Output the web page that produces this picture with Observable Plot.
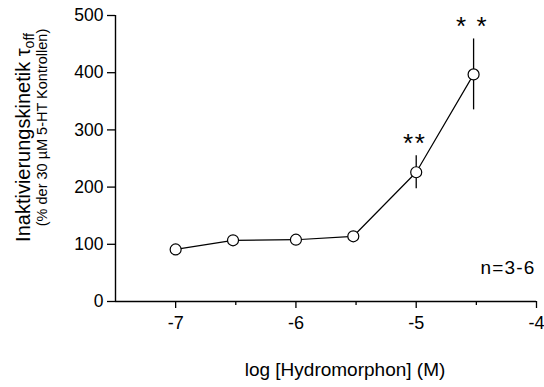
<!DOCTYPE html>
<html>
<head>
<meta charset="utf-8">
<script src="https://cdn.jsdelivr.net/npm/d3@7"></script>
<script src="https://cdn.jsdelivr.net/npm/@observablehq/plot@0.6"></script>
<style>
  html, body { margin: 0; padding: 0; background: #fff; }
  #chart { width: 544px; height: 387px; }
</style>
</head>
<body>
<div id="chart"></div>
<script>
// Data: log concentration of hydromorphone (M), mean tau_off (% of 30 µM 5-HT control), SEM
const logConc = [-7, -6.523, -6, -5.523, -5, -4.523];
const meanTau = [91, 107, 108, 114, 226, 397];
const semTau = [3, 4, 4, 3, 29, 62];
const sigLabels = ["", "", "", "", "**", "* *"];

const xTicksMajor = [-7, -6, -5, -4];
const xTicksMinor = [-6.5, -5.5, -4.5];
const yTicks = [0, 100, 200, 300, 400, 500];

const xTitle = "log [Hydromorphon] (M)";
const yTitleMain = "Inaktivierungskinetik τ";
const yTitleSub = "off";
const yTitle2 = "(% der 30 µM 5-HT Kontrollen)";
const noteText = "n=3-6";

const FONT = "'Liberation Sans', Arial, Helvetica, sans-serif";

const data = logConc.map((x, i) => ({
  x, y: meanTau[i], lo: meanTau[i] - semTau[i], hi: meanTau[i] + semTau[i], sig: sigLabels[i]
}));

const chart = Plot.plot({
  width: 544,
  height: 387,
  marginLeft: 115,
  marginRight: 8,
  marginTop: 15,
  marginBottom: 86,
  style: { fontFamily: FONT, color: "black", background: "white", overflow: "visible" },
  x: { domain: [-7.5, -4], axis: null },
  y: { domain: [0, 500], axis: null },
  marks: [
    Plot.axisY(yTicks, { tickSize: 8, tickPadding: 4, fontSize: 17.5, label: null, strokeWidth: 1.3 }),
    Plot.axisX(xTicksMajor, { tickSize: 7, tickPadding: 7.5, fontSize: 18, label: null, strokeWidth: 1.3, tickFormat: d => String(d) }),
    Plot.axisX(xTicksMinor, { tickSize: 4, label: null, strokeWidth: 1.3, tickFormat: () => "" }),
    Plot.ruleY([0], { strokeWidth: 1.4 }),
    Plot.ruleX([-7.5], { strokeWidth: 1.4 }),
    Plot.ruleX(data, { x: "x", y1: "lo", y2: "hi", strokeWidth: 1.3 }),
    Plot.line(data, { x: "x", y: "y", strokeWidth: 1.2 }),
    Plot.dot(data, { x: "x", y: "y", r: 5.5, fill: "white", stroke: "black", strokeWidth: 1.2 }),
    Plot.text(data.filter(d => d.sig), { x: "x", y: "hi", text: "sig", lineAnchor: "top", dy: -22.5, dx: -1.5, fontSize: 26 }),
    Plot.text([noteText], { frameAnchor: "bottom-right", textAnchor: "end", lineAnchor: "bottom", dx: -1, dy: -28, fontSize: 19 }),
    Plot.text([xTitle], { frameAnchor: "bottom", lineAnchor: "bottom", dx: 19, dy: 74, fontSize: 19 })
  ]
});

document.getElementById("chart").appendChild(chart);

// Rotated y-axis title with subscript
const svg = d3.select(chart);
const g = svg.append("g").attr("font-family", FONT).attr("fill", "black");
const t1 = g.append("text")
  .attr("transform", "translate(30,137.5) rotate(-90)")
  .attr("text-anchor", "middle")
  .attr("font-size", 20);
t1.append("tspan").text(yTitleMain);
t1.append("tspan").attr("font-size", 14).attr("dy", 4).text(yTitleSub);
g.append("text")
  .attr("transform", "translate(47,127.5) rotate(-90)")
  .attr("text-anchor", "middle")
  .attr("font-size", 14.5)
  .text(yTitle2);

// spacing tweaks for annotations
svg.selectAll("text").filter(function() { return this.textContent === noteText; })
  .attr("letter-spacing", "1.2px");
svg.selectAll("text").filter(function() { return sigLabels.includes(this.textContent) && this.textContent !== ""; })
  .attr("letter-spacing", "1.5px");
</script>
</body>
</html>
